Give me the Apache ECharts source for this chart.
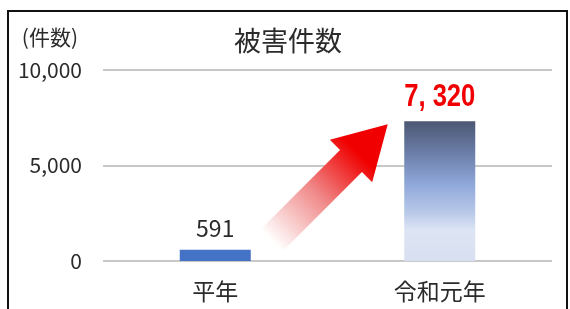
<!DOCTYPE html>
<html>
<head>
<meta charset="utf-8">
<script src="https://cdn.jsdelivr.net/npm/echarts@6/dist/echarts.min.js"></script>
<style>
  html, body { margin: 0; padding: 0; background: #fff; }
  #chart { width: 570px; height: 309px; }
</style>
</head>
<body>
<div id="chart"></div>
<script>
const categories = ['平年', '令和元年']
const values = [591, 7320]
const yTicks = [0, 5000, 10000]

const FONT = '"Noto Sans CJK JP", "Noto Sans", sans-serif'
const TEXT = '#2b2b2b'

const chart = echarts.init(document.getElementById('chart'))

const fmt = v => v.toLocaleString('en-US')

chart.setOption({
  animation: false,
  backgroundColor: '#fff',
  title: {
    text: '被害件数',
    left: 283,
    top: 22,
    textAlign: 'center',
    textStyle: { fontFamily: FONT, fontSize: 27, fontWeight: 'normal', color: TEXT }
  },
  grid: { left: 103, right: 18, top: 70, bottom: 48 },
  xAxis: {
    type: 'category',
    data: categories,
    axisLine: { show: false },
    axisTick: { show: false },
    axisLabel: { fontFamily: FONT, fontSize: 23, color: TEXT, margin: 19 }
  },
  yAxis: {
    type: 'value',
    min: yTicks[0],
    max: yTicks[yTicks.length - 1],
    interval: yTicks[1] - yTicks[0],
    name: '(件数)',
    nameLocation: 'end',
    nameGap: 33,
    nameTextStyle: {
      fontFamily: FONT, fontSize: 21, color: TEXT,
      align: 'right', verticalAlign: 'middle', padding: [0, 25, 0, 0]
    },
    axisLine: { show: false },
    axisTick: { show: false },
    splitLine: { lineStyle: { color: '#c8c8c8', width: 2 } },
    axisLabel: { fontFamily: FONT, fontSize: 21, color: TEXT, margin: 21, formatter: fmt }
  },
  series: [{
    type: 'bar',
    barWidth: 71,
    data: values.map((v, i) => i === 0 ? {
      value: v,
      itemStyle: { color: '#4472c4' },
      label: { show: true, position: 'top', distance: 10, fontFamily: FONT, fontSize: 23, color: TEXT, formatter: p => fmt(p.value) }
    } : {
      value: v,
      itemStyle: {
        color: new echarts.graphic.LinearGradient(0, 0, 0, 1, [
          { offset: 0, color: '#4b5772' },
          { offset: 0.25, color: '#6f82ad' },
          { offset: 0.45, color: '#8fa8da' },
          { offset: 0.65, color: '#b8c8e8' },
          { offset: 0.78, color: '#dde5f4' },
          { offset: 1, color: '#d8dff0' }
        ])
      }
    })
  }]
})

// frame, red value label and arrow annotation, placed from the axis scale
const [x0, y0] = chart.convertToPixel({ gridIndex: 0 }, [0, values[0]])
const [x1, y1] = chart.convertToPixel({ gridIndex: 0 }, [1, values[1]])
const tip = [x1 - 52, y1 + 3]
const tail = [x0 + 56, y0 - 9]
const dx = tip[0] - tail[0], dy = tip[1] - tail[1]
const len = Math.hypot(dx, dy)
const ux = dx / len, uy = dy / len
const nx = -uy, ny = ux
const shaftHalf = 15.5, headHalf = 30, headLen = 52
const hb = [tip[0] - ux * headLen, tip[1] - uy * headLen]
const pts = [
  [tail[0] + nx * shaftHalf, tail[1] + ny * shaftHalf],
  [hb[0] + nx * shaftHalf, hb[1] + ny * shaftHalf],
  [hb[0] + nx * headHalf, hb[1] + ny * headHalf],
  tip,
  [hb[0] - nx * headHalf, hb[1] - ny * headHalf],
  [hb[0] - nx * shaftHalf, hb[1] - ny * shaftHalf],
  [tail[0] - nx * shaftHalf, tail[1] - ny * shaftHalf]
]

chart.setOption({
  graphic: [
    {
      type: 'rect',
      shape: { x: 8, y: 11, width: 559, height: 310 },
      style: { fill: 'none', stroke: '#111', lineWidth: 2 },
      silent: true
    },
    {
      type: 'polygon',
      shape: { points: pts },
      style: {
        fill: new echarts.graphic.LinearGradient(tail[0], tail[1], tip[0], tip[1], [
          { offset: 0, color: 'rgba(255,255,255,1)' },
          { offset: 0.4, color: '#f08888' },
          { offset: 0.75, color: '#f00000' },
          { offset: 1, color: '#f00000' }
        ], true)
      },
      silent: true
    },
    {
      type: 'text',
      x: x1,
      y: y1 - 24,
      scaleX: 0.8,
      style: {
        text: fmt(values[1]).replace(',', ', '),
        font: 'bold 32px "Liberation Sans", Arial, sans-serif',
        fill: '#f00000',
        align: 'center',
        verticalAlign: 'middle'
      },
      silent: true
    }
  ]
})
</script>
</body>
</html>
